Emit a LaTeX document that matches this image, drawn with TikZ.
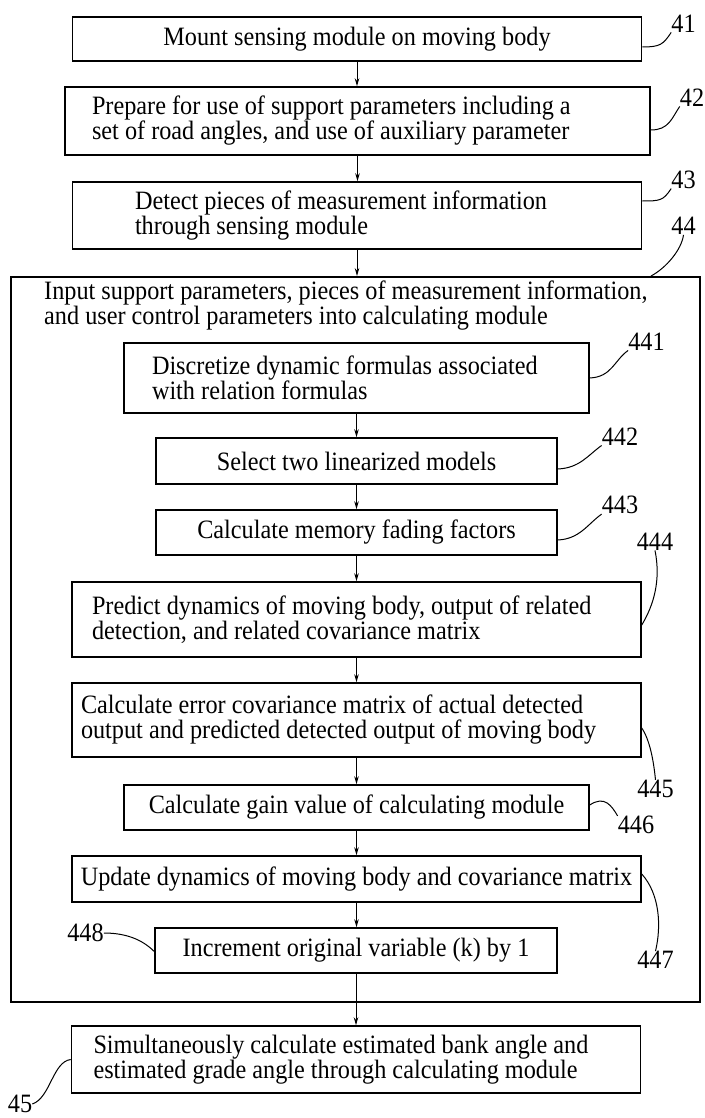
\documentclass[tikz,border=0pt]{standalone}
\usepackage{fontspec}
\setmainfont{Liberation Serif}[FakeStretch=0.915]
\usetikzlibrary{arrows.meta}
\tikzstyle{plain}=[inner sep=0pt, font=\fontsize{26.5}{25}\selectfont]
\tikzstyle{stepbox}=[plain, draw, rectangle, line width=1.5pt, align=center]
\tikzstyle{flow}=[line width=1pt, -{Stealth[length=8pt,width=4.5pt]}]
\tikzstyle{lead}=[line width=1pt]

\begin{document}
\begin{tikzpicture}[x=1pt,y=-1pt]
    \useasboundingbox (0,0) rectangle (704,1118);

    % the big block that holds the loop
    \node[stepbox, line width=1.9pt, minimum width=689pt, minimum height=725pt] (b44) at (355.5,639.5) {};
    \node[plain, anchor=west, align=flush left] (t44) at (44,305.5)
      {Input support parameters, pieces of measurement information,\\and user control parameters into calculating module};

    % steps before the block
    \node[stepbox, minimum width=569pt, minimum height=44pt] (b41) at (357,39)
      {Mount sensing module on moving body};
    \node[stepbox, align=flush left, text width=531pt, inner xsep=27pt, minimum height=68pt] (b42) at (357.5,121)
      {Prepare for use of support parameters including a\\set of road angles, and use of auxiliary parameter};
    \node[stepbox, align=flush left, text width=444pt, inner xsep=62.5pt, minimum height=67pt] (b43) at (357,215.5)
      {Detect pieces of measurement information\\through sensing module};

    % steps inside the block
    \node[stepbox, align=flush left, text width=409pt, inner xsep=28pt, minimum height=70pt] (b441) at (356.5,378)
      {Discretize dynamic formulas associated\\with relation formulas};
    \node[stepbox, minimum width=401pt, minimum height=46pt] (b442) at (356.5,461)
      {Select two linearized models};
    \node[stepbox, minimum width=401pt, minimum height=45pt] (b443) at (356.5,532.5)
      {Calculate memory fading factors};
    \node[stepbox, align=flush left, text width=529pt, inner xsep=20pt, minimum height=75pt] (b444) at (356.5,619.5)
      {Predict dynamics of moving body, output of related\\detection, and related covariance matrix};
    \node[stepbox, align=flush left, text width=551pt, inner xsep=9pt, minimum height=74pt] (b445) at (356.5,720)
      {Calculate error covariance matrix of actual detected\\output and predicted detected output of moving body};
    \node[stepbox, minimum width=465pt, minimum height=45pt] (b446) at (356.5,807.5)
      {Calculate gain value of calculating module};
    \node[stepbox, minimum width=569pt, minimum height=46pt] (b447) at (356.5,879)
      {Update dynamics of moving body and covariance matrix};
    \node[stepbox, minimum width=402pt, minimum height=45pt] (b448) at (356,950.5)
      {Increment original variable (k) by 1};

    % last step
    \node[stepbox, align=flush left, text width=525pt, inner xsep=22pt, minimum height=67pt] (b45) at (356,1059.5)
      {Simultaneously calculate estimated bank angle and\\estimated grade angle through calculating module};

    % arrows down the chart
    \foreach \a/\b in {b41/b42, b42/b43, b43/b44, b441/b442, b442/b443, b443/b444,
                       b444/b445, b445/b446, b446/b447, b447/b448, b448/b45}
    \draw[flow] (\a.south) -- (\a.south |- \b.north);

    % reference numerals
    \foreach \n/\x/\y in {41/683.5/23.5, 42/692/97.5, 43/683.5/179.5, 44/683.5/226,
                          441/646.5/341.5, 442/620/436.5, 443/620/505, 444/655/541.5,
                          445/655.5/789, 446/636/825, 447/655.5/960, 448/85.5/933, 45/20/1104}
    \node[plain] (l\n) at (\x,\y) {\n};

    % leader lines
    \draw[lead] ([yshift=-8pt]b41.east) .. controls +(18,0) and +(-8,12) .. (l41.south west);
    \draw[lead] ([yshift=-9pt]b42.east) .. controls +(18,0) and +(-8,12) .. (l42.south west);
    \draw[lead] ([yshift=14.5pt]b43.east) .. controls +(18,0) and +(-8,12) .. (l43.south west);
    \draw[lead] ([xshift=-50pt]b44.north east) .. controls +(15,-8) and +(-2,15) .. (l44.south);
    \draw[lead] (b441.east) .. controls +(22,-1) and +(-14,10) .. (l441.south west);
    \draw[lead] ([yshift=-8pt]b442.east) .. controls +(22,-1) and +(-14,10) .. (l442.south west);
    \draw[lead] ([yshift=-7.5pt]b443.east) .. controls +(22,-1) and +(-14,10) .. (l443.south west);
    \draw[lead] (l444.south) .. controls +(6,30) and +(12,-20) .. ([yshift=-5.5pt]b444.east);
    \draw[lead] ([yshift=-8pt]b445.east) .. controls +(8,12) and +(-2,-20) .. (l445.north);
    \draw[lead] ([yshift=2.5pt]b446.east) .. controls +(15,-10) and +(-6,-10) .. (l446.north west);
    \draw[lead] ([yshift=5pt]b447.east) .. controls +(18,20) and +(6,-25) .. (l447.north);
    \draw[lead] (l448.east) .. controls +(22,0) and +(-12,-12) .. ([yshift=-1pt]b448.west);
    \draw[lead] (l45.east) .. controls +(18,-6) and +(-18,2) .. (b45.west);
\end{tikzpicture}
\end{document}
